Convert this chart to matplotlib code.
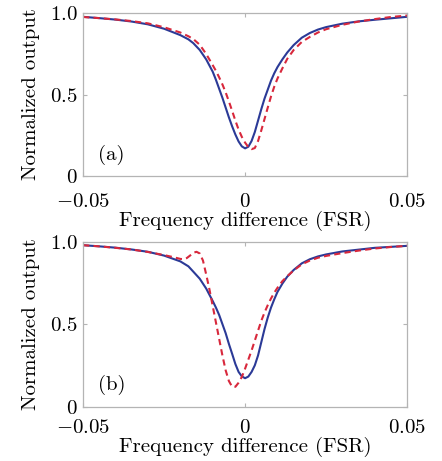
import matplotlib
matplotlib.use("Agg")
import matplotlib.pyplot as plt

# ---------------- data ----------------
xa_blue = [-0.050, -0.045, -0.040, -0.035, -0.030, -0.025, -0.020, -0.0175, -0.016, -0.014,
           -0.012, -0.010, -0.009, -0.008, -0.007, -0.006, -0.005, -0.004, -0.003, -0.002,
           -0.001, 0.000, 0.001, 0.002, 0.003, 0.004, 0.005, 0.006, 0.007, 0.008,
           0.009, 0.010, 0.0115, 0.013, 0.015, 0.0175, 0.020, 0.0225, 0.025, 0.030,
           0.035, 0.040, 0.045, 0.050]
ya_blue = [0.976, 0.968, 0.959, 0.947, 0.930, 0.903, 0.864, 0.838, 0.815, 0.773,
           0.715, 0.640, 0.590, 0.535, 0.480, 0.420, 0.360, 0.305, 0.255, 0.212,
           0.182, 0.170, 0.180, 0.215, 0.270, 0.340, 0.410, 0.475, 0.530, 0.585,
           0.630, 0.668, 0.715, 0.757, 0.803, 0.848, 0.877, 0.898, 0.913, 0.934,
           0.948, 0.958, 0.967, 0.976]

xa_red = [-0.050, -0.045, -0.040, -0.035, -0.030, -0.025, -0.020, -0.0175, -0.016, -0.014,
          -0.012, -0.010, -0.009, -0.008, -0.007, -0.006, -0.005, -0.004, -0.003, -0.002,
          -0.001, 0.000, 0.001, 0.002, 0.003, 0.004, 0.005, 0.006, 0.007, 0.008,
          0.009, 0.010, 0.0115, 0.013, 0.015, 0.0175, 0.020, 0.0225, 0.025, 0.030,
          0.035, 0.040, 0.045, 0.050]
ya_red = [0.975, 0.968, 0.960, 0.950, 0.936, 0.912, 0.880, 0.857, 0.840, 0.805,
          0.748, 0.680, 0.645, 0.605, 0.562, 0.513, 0.458, 0.400, 0.340, 0.285,
          0.240, 0.205, 0.178, 0.165, 0.172, 0.215, 0.280, 0.350, 0.420, 0.488,
          0.548, 0.598, 0.660, 0.718, 0.773, 0.822, 0.853, 0.880, 0.900, 0.927,
          0.947, 0.962, 0.975, 0.984]

xb_blue = [-0.050, -0.045, -0.040, -0.035, -0.030, -0.025, -0.020, -0.0175, -0.016, -0.014,
           -0.012, -0.010, -0.009, -0.008, -0.007, -0.006, -0.005, -0.004, -0.003, -0.002,
           -0.001, 0.000, 0.001, 0.002, 0.003, 0.004, 0.005, 0.006, 0.007, 0.008,
           0.009, 0.010, 0.0115, 0.013, 0.015, 0.0175, 0.020, 0.0225, 0.025, 0.030,
           0.035, 0.040, 0.045, 0.050]
yb_blue = [0.978, 0.971, 0.963, 0.952, 0.938, 0.915, 0.880, 0.850, 0.818, 0.775,
           0.715, 0.640, 0.600, 0.555, 0.500, 0.445, 0.380, 0.320, 0.258, 0.210,
           0.183, 0.172, 0.182, 0.210, 0.250, 0.310, 0.390, 0.470, 0.540, 0.600,
           0.650, 0.695, 0.745, 0.787, 0.828, 0.868, 0.893, 0.910, 0.922, 0.940,
           0.951, 0.962, 0.968, 0.974]

xb_red = [-0.050, -0.045, -0.040, -0.035, -0.030, -0.025, -0.022, -0.020, -0.019, -0.018,
          -0.017, -0.016, -0.015, -0.014, -0.013, -0.012, -0.011, -0.010, -0.009, -0.008,
          -0.007, -0.006, -0.005, -0.004, -0.003, -0.002, -0.001, 0.000, 0.001, 0.002,
          0.003, 0.004, 0.005, 0.006, 0.007, 0.008, 0.009, 0.010, 0.0115, 0.013,
          0.015, 0.0175, 0.020, 0.0225, 0.025, 0.030, 0.035, 0.040, 0.045, 0.050]
yb_red = [0.978, 0.971, 0.962, 0.952, 0.937, 0.918, 0.905, 0.895, 0.893, 0.900,
          0.915, 0.932, 0.938, 0.928, 0.885, 0.800, 0.710, 0.610, 0.510, 0.410,
          0.310, 0.220, 0.155, 0.120, 0.120, 0.145, 0.180, 0.230, 0.285, 0.340,
          0.400, 0.460, 0.520, 0.570, 0.615, 0.655, 0.690, 0.720, 0.760, 0.790,
          0.825, 0.862, 0.885, 0.902, 0.913, 0.930, 0.945, 0.958, 0.967, 0.974]

x_ticks = [-0.05, 0, 0.05]
x_ticklabels = ["$-0.05$", "$0$", "$0.05$"]
y_ticks = [0, 0.5, 1.0]
y_ticklabels = ["$0$", "$0.5$", "$1.0$"]
xlabel = "Frequency difference (FSR)"
ylabel = "Normalized output"
panel_labels = ["(a)", "(b)"]

# ---------------- style ----------------
plt.rcParams["font.family"] = ["cmr10", "DejaVu Serif"]
plt.rcParams["mathtext.fontset"] = "cm"
plt.rcParams["axes.formatter.use_mathtext"] = True

BLUE = "#2b3a97"
RED = "#d8283c"
SPINE = "#b4b4b4"
FS = 15

fig = plt.figure(figsize=(4.42, 4.61), dpi=100)
ax1 = fig.add_axes([0.188, 0.618, 0.733, 0.354])
ax2 = fig.add_axes([0.188, 0.118, 0.733, 0.358])

panels = [(ax1, xa_blue, ya_blue, xa_red, ya_red, panel_labels[0], 12, 0),
          (ax2, xb_blue, yb_blue, xb_red, yb_red, panel_labels[1], 9, 0)]

for ax, xbl, ybl, xr, yr, lab, xpad, lpad in panels:
    ax.plot(xbl, ybl, color=BLUE, lw=1.5, solid_capstyle="round")
    ax.plot(xr, yr, color=RED, lw=1.5, dashes=(3, 2))
    ax.set_xlim(-0.05, 0.05)
    ax.set_ylim(0, 1.0)
    ax.set_xticks(x_ticks)
    ax.set_xticklabels(x_ticklabels, fontsize=FS)
    ax.set_yticks(y_ticks)
    ax.set_yticklabels(y_ticklabels, fontsize=FS)
    ax.tick_params(axis="both", direction="in", length=3, width=0.8, color=SPINE,
                   top=True, right=True)
    ax.tick_params(axis="x", pad=xpad)
    ax.tick_params(axis="y", pad=4)
    for s in ax.spines.values():
        s.set_color(SPINE)
        s.set_linewidth(0.9)
    ax.set_xlabel(xlabel, fontsize=FS, labelpad=lpad)
    ax.set_ylabel(ylabel, fontsize=FS, labelpad=7)
    ax.text(-0.0455, 0.13, lab, fontsize=FS, ha="left", va="center")

fig.savefig("out.png", dpi=100, facecolor="white")
